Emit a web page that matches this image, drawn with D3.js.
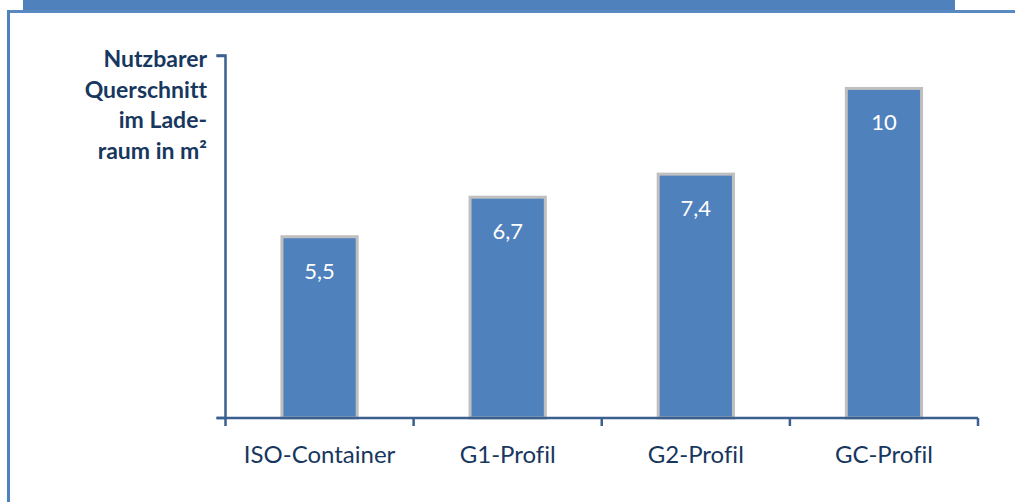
<!DOCTYPE html>
<html>
<head>
<meta charset="utf-8">
<script src="https://cdn.jsdelivr.net/npm/d3@7"></script>
<style>
  html, body { margin: 0; padding: 0; background: #fff; }
  svg { display: block; }
  text { font-variant-ligatures: none; font-feature-settings: "liga" 0; }
</style>
</head>
<body>
<svg id="chart" width="1015" height="502"></svg>
<script>
// Nutzbarer Querschnitt je Ladeeinheit
const categories = ["ISO-Container", "G1-Profil", "G2-Profil", "GC-Profil"];
const values = [5.5, 6.7, 7.4, 10];
const valueLabels = ["5,5", "6,7", "7,4", "10"];
const axisTitleLines = ["Nutzbarer", "Querschnitt", "im Lade-", "raum in m²"];

const svg = d3.select("#chart");
const W = 1015, H = 502;

const blue = "#4f81bd";
const axisColor = "#3b5f8e";
const textColor = "#17375e";
const font = "Lato, 'Open Sans', sans-serif";

// frame: top banner, rule beneath it, left edge
svg.append("rect").attr("x", 23).attr("y", 0).attr("width", 932).attr("height", 11).attr("fill", blue);
svg.append("rect").attr("x", 7).attr("y", 10).attr("width", W - 7).attr("height", 3).attr("fill", "#5a89c2");
svg.append("rect").attr("x", 7).attr("y", 10).attr("width", 3).attr("height", H - 10).attr("fill", blue);

const plot = { left: 225.5, right: 978, top: 55.5, bottom: 418 };

const x = d3.scaleBand()
  .domain(categories)
  .range([plot.left, plot.right])
  .paddingInner(0.6)
  .paddingOuter(0.3);

const y = d3.scaleLinear().domain([0, 11]).range([plot.bottom, plot.top]);

// bars
svg.append("g").selectAll("rect")
  .data(values)
  .join("rect")
  .attr("x", (d, i) => x(categories[i]))
  .attr("y", d => y(d))
  .attr("width", x.bandwidth())
  .attr("height", d => plot.bottom - y(d))
  .attr("fill", blue)
  .attr("stroke", "#bfbfbf")
  .attr("stroke-width", 3);

// value labels inside the bars
svg.append("g").selectAll("text")
  .data(values)
  .join("text")
  .attr("x", (d, i) => x(categories[i]) + x.bandwidth() / 2)
  .attr("y", d => y(d) + 42)
  .attr("text-anchor", "middle")
  .attr("fill", "#fff")
  .attr("font-family", font)
  .attr("font-size", 22)
  .text((d, i) => valueLabels[i]);

// y axis: line with one tick at the top
const yAxis = svg.append("g").attr("transform", `translate(${plot.left},0)`)
  .call(d3.axisLeft(y).tickValues([11]).tickSize(9).tickFormat(""));
yAxis.select(".domain").attr("stroke", axisColor).attr("stroke-width", 2.5)
  .attr("d", `M-9,${plot.bottom}H0V${plot.top}H-9`);
yAxis.selectAll(".tick line").attr("stroke", axisColor).attr("stroke-width", 2.5);

// x axis: ticks at category boundaries, labels centred in bands
const bounds = d3.range(categories.length + 1).map(i => plot.left + i * (plot.right - plot.left) / categories.length);
const xg = svg.append("g");
xg.append("line")
  .attr("x1", plot.left - 9).attr("x2", plot.right)
  .attr("y1", plot.bottom).attr("y2", plot.bottom)
  .attr("stroke", axisColor).attr("stroke-width", 2.5);
xg.selectAll("line.tick")
  .data(bounds)
  .join("line")
  .attr("class", "tick")
  .attr("x1", d => d).attr("x2", d => d)
  .attr("y1", plot.bottom).attr("y2", plot.bottom + 8)
  .attr("stroke", axisColor).attr("stroke-width", 2.5);
xg.selectAll("text")
  .data(categories)
  .join("text")
  .attr("x", d => x(d) + x.bandwidth() / 2)
  .attr("y", 463)
  .attr("text-anchor", "middle")
  .attr("fill", textColor)
  .attr("font-family", font)
  .attr("font-size", 24)
  .text(d => d);

// axis title, right-aligned beside the axis
svg.append("g").selectAll("text")
  .data(axisTitleLines)
  .join("text")
  .attr("x", 207)
  .attr("y", (d, i) => 67 + i * 30.5)
  .attr("text-anchor", "end")
  .attr("fill", textColor)
  .attr("font-family", font)
  .attr("font-weight", "bold")
  .attr("font-size", 23)
  .text(d => d);
</script>
</body>
</html>
